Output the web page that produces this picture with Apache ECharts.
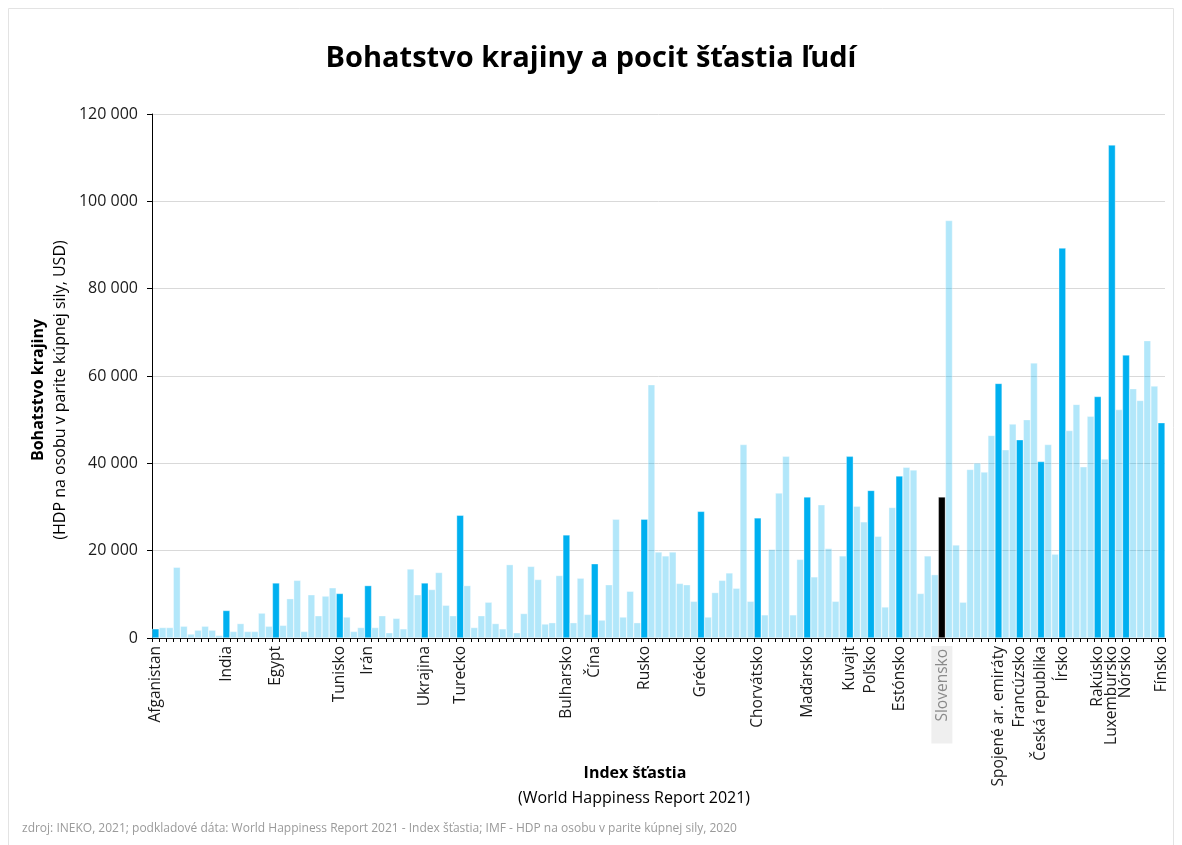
<!DOCTYPE html>
<html>
<head>
<meta charset="utf-8">
<script src="https://cdn.jsdelivr.net/npm/echarts@6/dist/echarts.min.js"></script>
<style>
html,body{margin:0;padding:0;background:#fff;}
#chart{width:1182px;height:845px;}
</style>
</head>
<body>
<div id="chart"></div>
<script>
// HDP na osobu (PPP, USD, tis.) zoradené podľa indexu šťastia (od najnižšieho)
var gdp = [
  2.1, 2.4, 2.4, 16.2, 2.7, 0.9, 1.8, 2.7, 1.8, 0.6,
  6.3, 1.5, 3.3, 1.5, 1.5, 5.7, 2.7, 12.6, 2.9, 9.0,
  13.2, 1.5, 9.9, 5.1, 9.6, 11.5, 10.2, 4.8, 1.5, 2.4,
  12.0, 2.4, 5.1, 1.2, 4.5, 2.1, 15.8, 9.9, 12.6, 11.1,
  15.0, 7.5, 5.1, 28.1, 12.0, 2.4, 5.1, 8.2, 3.3, 2.1,
  16.8, 1.2, 5.6, 16.4, 13.4, 3.2, 3.5, 14.3, 23.6, 3.5,
  13.7, 5.4, 17.0, 4.1, 12.2, 27.2, 4.8, 10.7, 3.5, 27.2,
  58.0, 19.7, 18.8, 19.7, 12.5, 12.2, 8.4, 29.0, 4.8, 10.4,
  13.2, 14.9, 11.4, 44.3, 8.4, 27.5, 5.3, 20.3, 33.2, 41.6,
  5.3, 18.0, 32.3, 14.0, 30.5, 20.5, 8.4, 18.8, 41.6, 30.2,
  26.6, 33.8, 23.3, 7.1, 29.9, 37.1, 39.1, 38.5, 10.2, 18.8,
  14.5, 32.3, 95.6, 21.3, 8.2, 38.6, 40.1, 38.0, 46.4, 58.3,
  43.1, 49.0, 45.4, 50.0, 63.0, 40.4, 44.3, 19.2, 89.3, 47.5,
  53.5, 39.2, 50.8, 55.3, 41.0, 112.9, 52.3, 64.8, 57.1, 54.4,
  68.1, 57.7, 49.3
];
// pomenované krajiny: [poradie v grafe, názov]
var labeledCountries = [
  [0, 'Afganistan'], [10, 'India'], [17, 'Egypt'], [26, 'Tunisko'], [30, 'Irán'],
  [38, 'Ukrajina'], [43, 'Turecko'], [58, 'Bulharsko'], [62, 'Čína'], [69, 'Rusko'],
  [77, 'Grécko'], [85, 'Chorvátsko'], [92, 'Maďarsko'], [98, 'Kuvajt'], [101, 'Poľsko'],
  [105, 'Estónsko'], [111, 'Slovensko'], [119, 'Spojené ar. emiráty'], [122, 'Francúzsko'],
  [125, 'Česká republika'], [128, 'Írsko'], [133, 'Rakúsko'], [135, 'Luxembursko'],
  [137, 'Nórsko'], [142, 'Fínsko']
];
var yTicks = [0, 20000, 40000, 60000, 80000, 100000, 120000];
var highlightCountry = 'Slovensko';

var nameByIndex = {};
labeledCountries.forEach(function (p) { nameByIndex[p[0]] = p[1]; });
var categories = gdp.map(function (v, i) { return nameByIndex[i] !== undefined ? nameByIndex[i] : '#' + (i + 1); });

var seriesData = gdp.map(function (v, i) {
  var name = categories[i];
  var color = 'rgba(0,176,240,0.3)';
  if (name === highlightCountry) color = '#000000';
  else if (name.charAt(0) !== '#') color = '#00b0f0';
  return { value: v * 1000, itemStyle: { color: color } };
});

function fmt(v) {
  return String(v).replace(/\B(?=(\d{3})+(?!\d))/g, ' ');
}

var FONT = 'Open Sans';
var chart = echarts.init(document.getElementById('chart'), null, { renderer: 'canvas' });
chart.setOption({
  backgroundColor: '#ffffff',
  animation: false,
  textStyle: { fontFamily: FONT },
  title: {
    text: 'Bohatstvo krajiny a pocit šťastia ľudí',
    left: 'center',
    top: 39,
    textStyle: { fontFamily: FONT, fontSize: 29, fontWeight: 'bold', color: '#000' }
  },
  grid: { left: 152, right: 17, top: 114, bottom: 207, containLabel: false },
  xAxis: {
    type: 'category',
    data: categories,
    boundaryGap: true,
    axisLine: { lineStyle: { color: '#000', width: 1 } },
    axisTick: { show: true, interval: 0, length: 4, lineStyle: { color: '#000' } },
    axisLabel: {
      interval: 0,
      rotate: 90,
      margin: 8,
      fontSize: 15.5,
      color: '#1a1a1a',
      fontFamily: FONT,
      formatter: function (val) {
        if (val.charAt(0) === '#') return '';
        if (val === highlightCountry) return '{sk|' + val + '}';
        return val;
      },
      rich: {
        sk: { backgroundColor: '#efefef', color: '#8a8a8a', fontSize: 15.5, fontFamily: FONT, padding: [3, 3, 2, 22] }
      }
    },
    splitLine: { show: false }
  },
  yAxis: {
    type: 'value',
    min: yTicks[0],
    max: yTicks[yTicks.length - 1],
    interval: yTicks[1] - yTicks[0],
    axisLine: { show: true, lineStyle: { color: '#000', width: 1 } },
    axisTick: { show: true, length: 5, lineStyle: { color: '#000' } },
    axisLabel: { fontSize: 16, color: '#1a1a1a', margin: 14, fontFamily: FONT, formatter: fmt },
    splitLine: { show: true, lineStyle: { color: '#d9d9d9', width: 1 } }
  },
  series: [{
    type: 'bar',
    data: seriesData,
    barCategoryGap: '0%',
    barGap: '0%',
    itemStyle: { borderColor: 'rgba(255,255,255,0.7)', borderWidth: 0.5 }
  }],
  graphic: [
    { type: 'rect', shape: { x: 8.5, y: 8.5, width: 1165, height: 845 }, style: { fill: 'none', stroke: '#e3e3e3', lineWidth: 1 }, silent: true },
    { type: 'text', x: 38, y: 390, rotation: Math.PI / 2, style: { text: 'Bohatstvo krajiny', fontFamily: FONT, fontSize: 16, fontWeight: 'bold', fill: '#000', textAlign: 'center', textVerticalAlign: 'middle' } },
    { type: 'text', x: 60, y: 390, rotation: Math.PI / 2, style: { text: '(HDP na osobu v parite kúpnej sily, USD)', fontFamily: FONT, fontSize: 16, fill: '#000', textAlign: 'center', textVerticalAlign: 'middle' } },
    { type: 'text', x: 635, y: 773, style: { text: 'Index šťastia', fontFamily: FONT, fontSize: 16, fontWeight: 'bold', fill: '#000', textAlign: 'center', textVerticalAlign: 'middle' } },
    { type: 'text', x: 634, y: 798, style: { text: '(World Happiness Report 2021)', fontFamily: FONT, fontSize: 16, fill: '#000', textAlign: 'center', textVerticalAlign: 'middle' } },
    { type: 'text', x: 22, y: 829, style: { text: 'zdroj: INEKO, 2021; podkladové dáta: World Happiness Report 2021 - Index šťastia; IMF - HDP na osobu v parite kúpnej sily, 2020', fontFamily: FONT, fontSize: 12, fill: '#9a9a9a', textAlign: 'left', textVerticalAlign: 'middle' } }
  ]
});
</script>
</body>
</html>
